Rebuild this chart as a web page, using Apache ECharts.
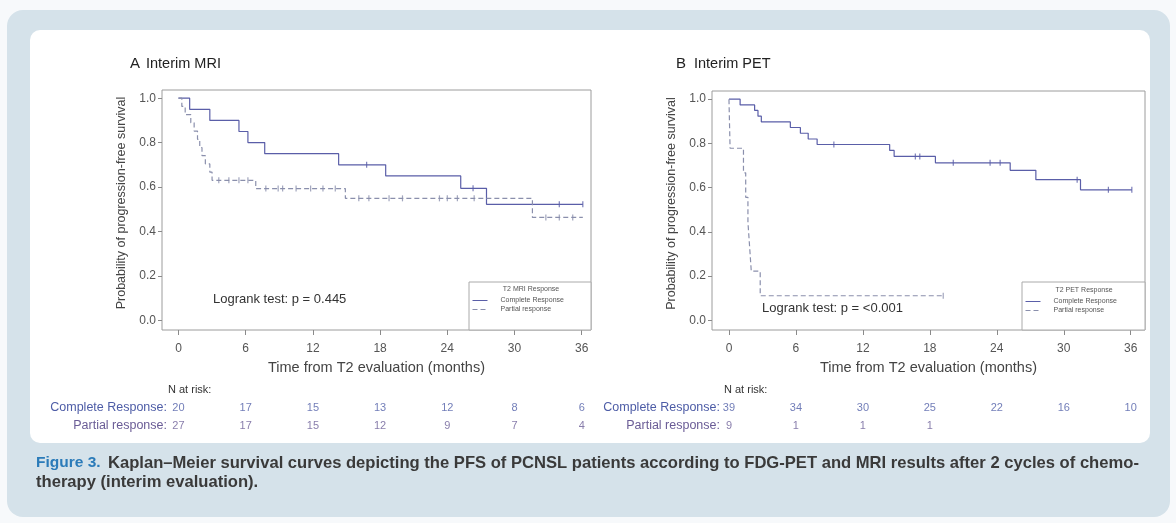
<!DOCTYPE html>
<html><head><meta charset="utf-8">
<script src="https://cdn.jsdelivr.net/npm/echarts@6/dist/echarts.min.js"></script>
<style>html,body{margin:0;padding:0;background:#f7f9fb;}#c{width:1176px;height:523px;}</style>
</head><body><div id="c"></div>
<script>
// ---------- data ----------
const xTicks = [0, 6, 12, 18, 24, 30, 36];
const yTicks = [0, 0.2, 0.4, 0.6, 0.8, 1.0];
const riskTimes = [0, 6, 12, 18, 24, 30, 36];
const groupLabels = ['Complete Response:', 'Partial response:'];
const seriesNames = ['Complete Response', 'Partial response'];

// Panel A - Interim MRI
const mriCompleteTime = [0, 1.0, 2.8, 5.4, 6.2, 7.7, 14.3, 18.5, 25.2, 27.5, 36.1];
const mriCompleteSurv = [1.0, 0.95, 0.90, 0.85, 0.80, 0.75, 0.70, 0.65, 0.594, 0.522, 0.522];
const mriCompleteCensT = [16.8, 26.3, 34.0, 36.1];
const mriCompleteCensS = [0.70, 0.594, 0.522, 0.522];
const mriPartialTime = [0, 0.3, 0.6, 1.1, 1.4, 1.7, 1.9, 2.1, 2.4, 2.8, 3.0, 6.9, 14.9, 31.6, 36.1];
const mriPartialSurv = [1.0, 0.963, 0.926, 0.889, 0.852, 0.815, 0.778, 0.741, 0.704, 0.667, 0.630, 0.593, 0.549, 0.463, 0.463];
const mriPartialCensT = [3.6, 4.5, 5.4, 6.2, 7.8, 8.9, 9.3, 10.5, 11.8, 12.9, 14.0, 16.1, 17.0, 18.8, 20.0, 23.3, 24.0, 24.9, 26.4, 32.8, 34.0, 35.2];
const mriPartialCensS = [0.630, 0.630, 0.630, 0.630, 0.593, 0.593, 0.593, 0.593, 0.593, 0.593, 0.593, 0.549, 0.549, 0.549, 0.549, 0.549, 0.549, 0.549, 0.549, 0.463, 0.463, 0.463];
const mriRiskComplete = [20, 17, 15, 13, 12, 8, 6];
const mriRiskPartial = [27, 17, 15, 12, 9, 7, 4];

// Panel B - Interim PET
const petCompleteTime = [0, 1.0, 2.3, 2.6, 2.9, 5.5, 6.4, 7.1, 7.9, 14.4, 14.8, 18.5, 25.2, 27.5, 31.5, 36.1];
const petCompleteSurv = [1.0, 0.974, 0.949, 0.923, 0.897, 0.872, 0.846, 0.820, 0.795, 0.768, 0.741, 0.712, 0.678, 0.636, 0.590, 0.590];
const petCompleteCensT = [9.4, 16.7, 17.1, 20.1, 23.4, 24.3, 31.2, 34.0, 36.1];
const petCompleteCensS = [0.795, 0.741, 0.741, 0.712, 0.712, 0.712, 0.636, 0.590, 0.590];
const petPartialTime = [0, 0.1, 1.3, 1.5, 1.7, 1.85, 2.0, 2.8, 19.2];
const petPartialSurv = [1.0, 0.778, 0.667, 0.556, 0.444, 0.333, 0.222, 0.111, 0.111];
const petPartialCensT = [19.2];
const petPartialCensS = [0.111];
const petRiskComplete = [39, 34, 30, 25, 22, 16, 10];
const petRiskPartial = [9, 1, 1, 1];

// ---------- styling ----------
const FONT = '"Liberation Sans", Arial, sans-serif';
const cComplete = '#5a5ea8';
const cPartial = '#8a8fac';
const cRowComplete = '#4d5ca6';
const cRowPartial = '#6a5c96';

const zip = (a, b) => a.map((v, i) => [v, b[i]]);

function plotX(gi, min, max) {
  return {
    gridIndex: gi, type: 'value', min: min, max: max,
    axisLine: {show: false, onZero: false}, splitLine: {show: false},
    axisTick: {show: true, customValues: xTicks, length: 5, lineStyle: {color: '#8a8a8a'}},
    axisLabel: {customValues: xTicks, fontSize: 12, color: '#555', margin: 13, fontFamily: FONT},
    name: 'Time from T2 evaluation (months)', nameLocation: 'middle', nameGap: 30,
    nameTextStyle: {fontSize: 14.5, color: '#444', fontFamily: FONT}
  };
}
function plotY(gi) {
  return {
    gridIndex: gi, type: 'value', min: -0.044, max: 1.037,
    axisLine: {show: false, onZero: false}, splitLine: {show: false},
    axisTick: {show: true, customValues: yTicks, length: 4, lineStyle: {color: '#8a8a8a'}},
    axisLabel: {customValues: yTicks, fontSize: 12, color: '#555', margin: 6, fontFamily: FONT,
      formatter: v => Number(v).toFixed(1)},
    name: 'Probability of progression-free survival', nameLocation: 'middle', nameGap: 34, nameRotate: 90,
    nameTextStyle: {fontSize: 12.5, color: '#444', fontFamily: FONT, padding: [0, 0, 0, 14]}
  };
}
function riskX(gi, min, max) {
  return {gridIndex: gi, type: 'value', min: min, max: max, show: false};
}
function riskY(gi, margin) {
  return {
    gridIndex: gi, type: 'category', data: groupLabels, inverse: true,
    axisLine: {show: false}, axisTick: {show: false}, splitLine: {show: false},
    axisLabel: {margin: margin, fontSize: 12.5, fontFamily: FONT,
      color: (v, i) => (i === 0 ? cRowComplete : cRowPartial)}
  };
}
function kmLine(name, xi, t, s, color, dashed) {
  return {
    name: name, type: 'line', xAxisIndex: xi, yAxisIndex: xi, step: 'end',
    data: zip(t, s), symbol: 'none', showSymbol: false, silent: true, z: 3,
    itemStyle: {color: color},
    lineStyle: {color: color, width: 1.2, type: dashed ? [5, 3] : 'solid'}
  };
}
function censor(xi, t, s, color) {
  return {
    name: 'censor', type: 'scatter', xAxisIndex: xi, yAxisIndex: xi,
    data: zip(t, s), symbol: 'rect', symbolSize: [1.2, 6], silent: true, z: 4,
    itemStyle: {color: color}
  };
}
function riskRow(gi, row, values, color) {
  return {
    name: 'risk', type: 'scatter', xAxisIndex: gi, yAxisIndex: gi,
    data: values.map((n, i) => [riskTimes[i], groupLabels[row], n]),
    symbolSize: 0, silent: true,
    label: {show: true, position: 'inside', formatter: p => String(p.value[2]),
      fontSize: 11, color: color, fontFamily: FONT}
  };
}

const xA = [-1.47, 36.83];
const xB = [-1.52, 37.28];
const legendBase = {data: seriesNames, orient: 'vertical', itemWidth: 15, itemHeight: 7, itemGap: 2,
  padding: 0, selectedMode: false, z: 20, itemStyle: {opacity: 0},
  lineStyle: {width: 1},
  textStyle: {fontSize: 7, color: '#555', fontFamily: FONT, padding: [0, 0, 0, 8]}};

const option = {
  animation: false,
  textStyle: {fontFamily: FONT},
  grid: [
    {left: 162, top: 90, width: 429, height: 240, show: true, borderColor: '#9c9c9c', borderWidth: 1, backgroundColor: '#fff'},
    {left: 712, top: 91, width: 433, height: 239, show: true, borderColor: '#9c9c9c', borderWidth: 1, backgroundColor: '#fff'},
    {left: 162, top: 399, width: 429, height: 36},
    {left: 712, top: 399, width: 433, height: 36}
  ],
  xAxis: [plotX(0, xA[0], xA[1]), plotX(1, xB[0], xB[1]), riskX(2, xA[0], xA[1]), riskX(3, xB[0], xB[1])],
  yAxis: [plotY(0), plotY(1), riskY(2, -5), riskY(3, -8)],
  legend: [
    Object.assign({left: 472, top: 297}, legendBase),
    Object.assign({left: 1025, top: 298}, legendBase)
  ],
  series: [
    kmLine(seriesNames[0], 0, mriCompleteTime, mriCompleteSurv, cComplete, false),
    kmLine(seriesNames[1], 0, mriPartialTime, mriPartialSurv, cPartial, true),
    censor(0, mriCompleteCensT, mriCompleteCensS, cComplete),
    censor(0, mriPartialCensT, mriPartialCensS, cPartial),
    kmLine(seriesNames[0], 1, petCompleteTime, petCompleteSurv, cComplete, false),
    kmLine(seriesNames[1], 1, petPartialTime, petPartialSurv, cPartial, true),
    censor(1, petCompleteCensT, petCompleteCensS, cComplete),
    censor(1, petPartialCensT, petPartialCensS, cPartial),
    riskRow(2, 0, mriRiskComplete, cRowComplete),
    riskRow(2, 1, mriRiskPartial, cRowPartial),
    riskRow(3, 0, petRiskComplete, cRowComplete),
    riskRow(3, 1, petRiskPartial, cRowPartial)
  ],
  graphic: [
    {type: 'rect', z: -20, silent: true, shape: {x: 7, y: 10, width: 1163, height: 507, r: 16}, style: {fill: '#d5e2ea'}},
    {type: 'rect', z: -19, silent: true, shape: {x: 30, y: 30, width: 1120, height: 413, r: 10}, style: {fill: '#ffffff'}},
    {type: 'rect', z: 5, silent: true, shape: {x: 469, y: 282, width: 122, height: 48}, style: {fill: '#fff', stroke: '#aaaaaa', lineWidth: 1}},
    {type: 'rect', z: 5, silent: true, shape: {x: 1022, y: 282, width: 123, height: 48}, style: {fill: '#fff', stroke: '#aaaaaa', lineWidth: 1}},
    {type: 'text', z: 6, style: {x: 531, y: 289, text: 'T2 MRI Response', font: '7px ' + FONT, fill: '#555', textAlign: 'center', textVerticalAlign: 'middle'}},
    {type: 'text', z: 6, style: {x: 1084, y: 290, text: 'T2 PET Response', font: '7px ' + FONT, fill: '#555', textAlign: 'center', textVerticalAlign: 'middle'}},
    {type: 'text', z: 6, style: {x: 213, y: 299, text: 'Logrank test: p = 0.445', font: '13px ' + FONT, fill: '#333', textVerticalAlign: 'middle'}},
    {type: 'text', z: 6, style: {x: 762, y: 308, text: 'Logrank test: p = <0.001', font: '13px ' + FONT, fill: '#333', textVerticalAlign: 'middle'}},
    {type: 'text', style: {x: 130, y: 64, text: 'A', font: '15px ' + FONT, fill: '#222', textVerticalAlign: 'middle'}},
    {type: 'text', style: {x: 146, y: 64, text: 'Interim MRI', font: '14.5px ' + FONT, fill: '#222', textVerticalAlign: 'middle'}},
    {type: 'text', style: {x: 676, y: 64, text: 'B', font: '15px ' + FONT, fill: '#222', textVerticalAlign: 'middle'}},
    {type: 'text', style: {x: 694, y: 64, text: 'Interim PET', font: '14.5px ' + FONT, fill: '#222', textVerticalAlign: 'middle'}},
    {type: 'text', style: {x: 168, y: 390, text: 'N at risk:', font: '11px ' + FONT, fill: '#333', textVerticalAlign: 'middle'}},
    {type: 'text', style: {x: 724, y: 390, text: 'N at risk:', font: '11px ' + FONT, fill: '#333', textVerticalAlign: 'middle'}},
    {type: 'text', style: {x: 36, y: 463, text: 'Figure 3.', font: 'bold 15.5px ' + FONT, fill: '#2b7bb9', textVerticalAlign: 'middle'}},
    {type: 'text', style: {x: 108, y: 463, text: 'Kaplan\u2013Meier survival curves depicting the PFS of PCNSL patients according to FDG-PET and MRI results after 2 cycles of chemo-', font: 'bold 16.6px ' + FONT, fill: '#3a3a3a', textVerticalAlign: 'middle'}},
    {type: 'text', style: {x: 36, y: 482, text: 'therapy (interim evaluation).', font: 'bold 16.6px ' + FONT, fill: '#3a3a3a', textVerticalAlign: 'middle'}}
  ]
};

const chart = echarts.init(document.getElementById('c'), null, {renderer: 'canvas'});
chart.setOption(option);
</script>
</body></html>
